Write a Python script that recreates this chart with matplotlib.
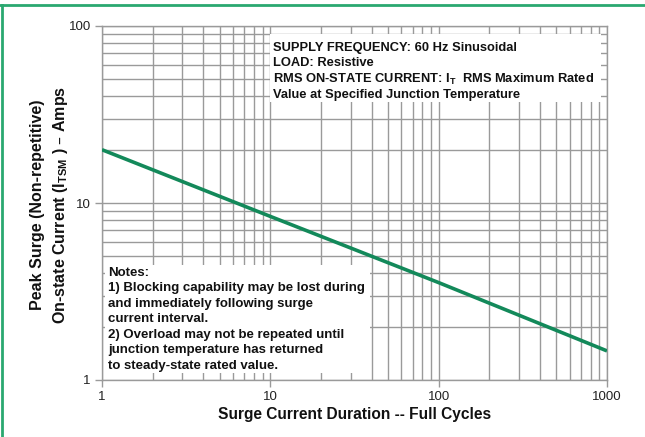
import matplotlib
matplotlib.use("Agg")
import matplotlib.pyplot as plt
from matplotlib.lines import Line2D
from matplotlib.patches import Rectangle
from matplotlib.ticker import LogLocator, FixedLocator, NullFormatter

# Data
cycles = [1, 10, 100, 1000]
surge_amps = [20.0, 8.4, 3.55, 1.46]
x_ticks = [1, 10, 100, 1000]
x_tick_labels = ["1", "10", "100", "1000"]
y_ticks = [1, 10, 100]
y_tick_labels = ["1", "10", "100"]

info_lines = [
    "SUPPLY FREQUENCY: 60 Hz Sinusoidal",
    "LOAD: Resistive",
    r"RMS ON-STATE CURRENT: I$_{\mathregular{T}}$  RMS Maximum Rated",
    "Value at Specified Junction Temperature",
]
note_lines = [
    "Notes:",
    "1) Blocking capability may be lost during",
    "and immediately following surge",
    "current interval.",
    "2) Overload may not be repeated until",
    "junction temperature has returned",
    "to steady-state rated value.",
]

W, H = 645, 437
fig = plt.figure(figsize=(W / 100, H / 100), dpi=100)
fig.patch.set_facecolor("white")

ax = fig.add_axes([102 / W, 1 - 380 / H, (607 - 102) / W, (380 - 26) / H])
ax.set_xscale("log")
ax.set_yscale("log")
ax.set_xlim(1, 1000)
ax.set_ylim(1, 100)

grid_col = "#9a9a9a"
ax.xaxis.set_major_locator(FixedLocator(x_ticks))
ax.yaxis.set_major_locator(FixedLocator(y_ticks))
ax.set_xticklabels(x_tick_labels)
ax.set_yticklabels(y_tick_labels)
ax.xaxis.set_minor_locator(LogLocator(base=10, subs=range(2, 10)))
ax.yaxis.set_minor_locator(LogLocator(base=10, subs=range(2, 10)))
ax.xaxis.set_minor_formatter(NullFormatter())
ax.yaxis.set_minor_formatter(NullFormatter())
ax.grid(True, which="both", color=grid_col, linewidth=1.0, zorder=0)
ax.set_axisbelow(True)
for s in ax.spines.values():
    s.set_color(grid_col)
    s.set_linewidth(1.0)
ax.tick_params(which="major", length=5, width=1.0, color=grid_col,
               labelsize=9.5, labelcolor="#222222", pad=3)
ax.tick_params(which="minor", length=0)
for lab in ax.get_xticklabels() + ax.get_yticklabels():
    lab.set_family(["Liberation Sans", "DejaVu Sans"])

ax.plot(cycles, surge_amps, color="#13895a", linewidth=2.6, zorder=3,
        solid_capstyle="butt")

fnt = ["Liberation Sans", "DejaVu Sans"]

# white boxes covering grid
fig.patches.append(Rectangle((270 / W, 1 - 102 / H), (601 - 270) / W, (102 - 34) / H,
                             transform=fig.transFigure, facecolor="white",
                             edgecolor="none", zorder=2))
fig.patches.append(Rectangle((105 / W, 1 - 373 / H), (370 - 105) / W, (373 - 265) / H,
                             transform=fig.transFigure, facecolor="white",
                             edgecolor="none", zorder=2))

info_y = [48, 63, 79, 95]
for t, yy in zip(info_lines, info_y):
    fig.text(273 / W, 1 - yy / H, t, fontsize=9.3, fontweight="bold",
             family=fnt, va="center", ha="left", color="#111111", zorder=5)

note_y = [273, 288, 304, 319, 335, 350, 366]
for t, yy in zip(note_lines, note_y):
    fig.text(108 / W, 1 - yy / H, t, fontsize=9.5, fontweight="bold",
             family=fnt, va="center", ha="left", color="#111111", zorder=5)

fig.text(355 / W, 1 - 414 / H, "Surge Current Duration -- Full Cycles",
         fontsize=11.2, fontweight="bold", family=fnt,
         ha="center", va="center", color="#111111")
fig.text(38 / W, 1 - 205 / H, "Peak Surge (Non-repetitive)",
         fontsize=11.5, fontweight="bold", family=fnt,
         ha="center", va="center", rotation=90, color="#111111")
fig.text(60 / W, 1 - 205 / H,
         r"On-state Current (I$_{\mathregular{TSM}}$ ) – Amps",
         fontsize=11.5, fontweight="bold", family=fnt,
         ha="center", va="center", rotation=90, color="#111111")

# green frame (top and left)
gcol = "#2aa870"
fig.lines.append(Line2D([0, 1], [1 - 4.5 / H, 1 - 4.5 / H], transform=fig.transFigure,
                        color=gcol, linewidth=2.0))
fig.lines.append(Line2D([1.5 / W, 1.5 / W], [0, 1 - 4.5 / H], transform=fig.transFigure,
                        color=gcol, linewidth=2.0))

fig.savefig("out.png", dpi=100)
